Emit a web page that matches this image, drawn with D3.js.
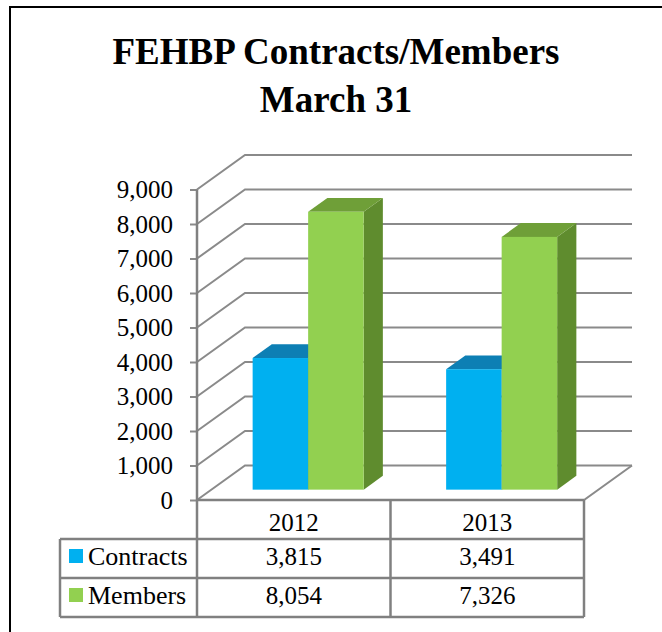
<!DOCTYPE html>
<html>
<head>
<meta charset="utf-8">
<script src="https://cdn.jsdelivr.net/npm/d3@7"></script>
<style>
  body { margin: 0; background: #fff; }
  svg { display: block; }
  svg text { font-family: "Liberation Serif", Tinos, "Noto Serif", FreeSerif, "DejaVu Serif", Georgia, serif; fill: #000; }
</style>
</head>
<body>
<svg id="chart" width="662" height="632"></svg>
<script>
// chart data
const categories = ["2012", "2013"];
const seriesNames = ["Contracts", "Members"];
const contracts = [3815, 3491];
const members = [8054, 7326];
const yTicks = [0, 1000, 2000, 3000, 4000, 5000, 6000, 7000, 8000, 9000];
const titleLines = ["FEHBP Contracts/Members", "March 31"];

const colors = {
	Contracts: { front: "#00b0f0", top: "#0d7fb4", side: "#0a6e9c" },
	Members: { front: "#92d050", top: "#6f9f38", side: "#5f8c2e" }
};

let svg = d3.select("#chart");
let fmt = d3.format(",");

// outer frame (runs off the right and bottom edge)
svg.append("rect")
	.attr("x", 10).attr("y", 7)
	.attr("width", 700).attr("height", 700)
	.attr("fill", "#fff")
	.attr("stroke", "#000")
	.attr("stroke-width", 2);

// title
svg.append("g").selectAll("text")
	.data(titleLines)
	.join("text")
	.attr("x", 336)
	.attr("y", (d, i) => 64 + i * 48)
	.attr("text-anchor", "middle")
	.attr("font-size", 37)
	.attr("font-weight", "bold")
	.text(d => d);

// scales
let left = 197, right = 584, floorY = 500;
let depthX = 48, depthY = 34.5;
let y = d3.scaleLinear().domain([0, 9000]).range([floorY, 189.5]);
let x = d3.scaleBand().domain(categories).range([left, right]);
let xs = d3.scaleBand().domain(seriesNames).range([0, x.bandwidth()]).paddingOuter(0.743);

// project a point (screen x at front, value, depth 0..1)
function proj(px, v, z) {
	return [px + z * depthX, y(v) - z * depthY];
}

let gridColor = "#8a8a8a";
let grid = svg.append("g")
	.attr("fill", "none")
	.attr("stroke", gridColor)
	.attr("stroke-width", 2);

// left wall diagonals + back wall lines
grid.selectAll("path.gl")
	.data(yTicks)
	.join("path")
	.attr("class", "gl")
	.attr("d", t => {
		let a = proj(left, t, 0), b = proj(left, t, 1), c = proj(right, t, 1);
		return "M" + a + "L" + b + "L" + c;
	});

// floor front and right edge
grid.append("path")
	.attr("d", "M" + proj(left, 0, 0) + "L" + proj(right, 0, 0) + "L" + proj(right, 0, 1));

// bars
let rows = [contracts, members];
categories.forEach((cat, ci) => {
	seriesNames.forEach((s, si) => {
		let v = rows[si][ci];
		let x0 = x(cat) + xs(s), x1 = x0 + xs.bandwidth();
		let z0 = 0.3, z1 = 0.7;
		let g = svg.append("g");
		// side face
		g.append("path")
			.attr("fill", colors[s].side)
			.attr("d", "M" + proj(x1, 0, z0) + "L" + proj(x1, 0, z1) + "L" + proj(x1, v, z1) + "L" + proj(x1, v, z0) + "Z");
		// top face
		g.append("path")
			.attr("fill", colors[s].top)
			.attr("d", "M" + proj(x0, v, z0) + "L" + proj(x1, v, z0) + "L" + proj(x1, v, z1) + "L" + proj(x0, v, z1) + "Z");
		// front face
		let p = proj(x0, v, z0), q = proj(x1, 0, z0);
		g.append("rect")
			.attr("fill", colors[s].front)
			.attr("x", p[0]).attr("y", p[1])
			.attr("width", q[0] - p[0]).attr("height", q[1] - p[1]);
	});
});

// y axis
let yAxis = d3.axisLeft(y).tickValues(yTicks).tickFormat(fmt)
	.tickSize(7).tickPadding(17).tickSizeOuter(0);
let ag = svg.append("g")
	.attr("transform", "translate(" + left + ",0)")
	.call(yAxis)
	.attr("font-family", null);
ag.select(".domain").remove();
ag.selectAll(".tick line").attr("stroke", gridColor).attr("stroke-width", 2);
ag.selectAll(".tick text")
	.attr("font-size", 25)
	.attr("fill", "#000");

// data table
let tableTop = floorY, rowH = 39, tableLeft = 60;
let tg = svg.append("g");
let lineColor = "#808080";
let tl = tg.append("g").attr("stroke", lineColor).attr("stroke-width", 2.5).attr("fill", "none");
// horizontal lines
tl.append("line").attr("x1", left).attr("x2", right).attr("y1", tableTop).attr("y2", tableTop);
[1, 2, 3].forEach(r => {
	tl.append("line").attr("x1", tableLeft).attr("x2", right)
		.attr("y1", tableTop + r * rowH).attr("y2", tableTop + r * rowH);
});
// vertical lines (the axis line runs down through the table)
tl.append("line").attr("x1", tableLeft).attr("x2", tableLeft).attr("y1", tableTop + rowH).attr("y2", tableTop + 3 * rowH);
[left, x("2013"), right].forEach(vx => {
	tl.append("line").attr("x1", vx).attr("x2", vx)
		.attr("y1", vx === left ? y(9000) : tableTop)
		.attr("y2", tableTop + 3 * rowH);
});

// header cells
tg.selectAll("text.hd")
	.data(categories)
	.join("text")
	.attr("class", "hd")
	.attr("x", d => x(d) + x.bandwidth() / 2)
	.attr("y", tableTop + 31)
	.attr("text-anchor", "middle")
	.attr("font-size", 25)
	.text(d => d);

// series rows
seriesNames.forEach((s, si) => {
	let by = tableTop + (si + 1) * rowH;
	tg.append("rect")
		.attr("x", 69).attr("y", by + 10)
		.attr("width", 14).attr("height", 14)
		.attr("fill", colors[s].front);
	tg.append("text")
		.attr("x", 88).attr("y", by + 26)
		.attr("font-size", 26)
		.text(s);
	tg.selectAll("text.v" + si)
		.data(rows[si])
		.join("text")
		.attr("class", "v" + si)
		.attr("x", (d, i) => x(categories[i]) + x.bandwidth() / 2)
		.attr("y", by + 26)
		.attr("text-anchor", "middle")
		.attr("font-size", 25)
		.text(d => fmt(d));
});
</script>
</body>
</html>
